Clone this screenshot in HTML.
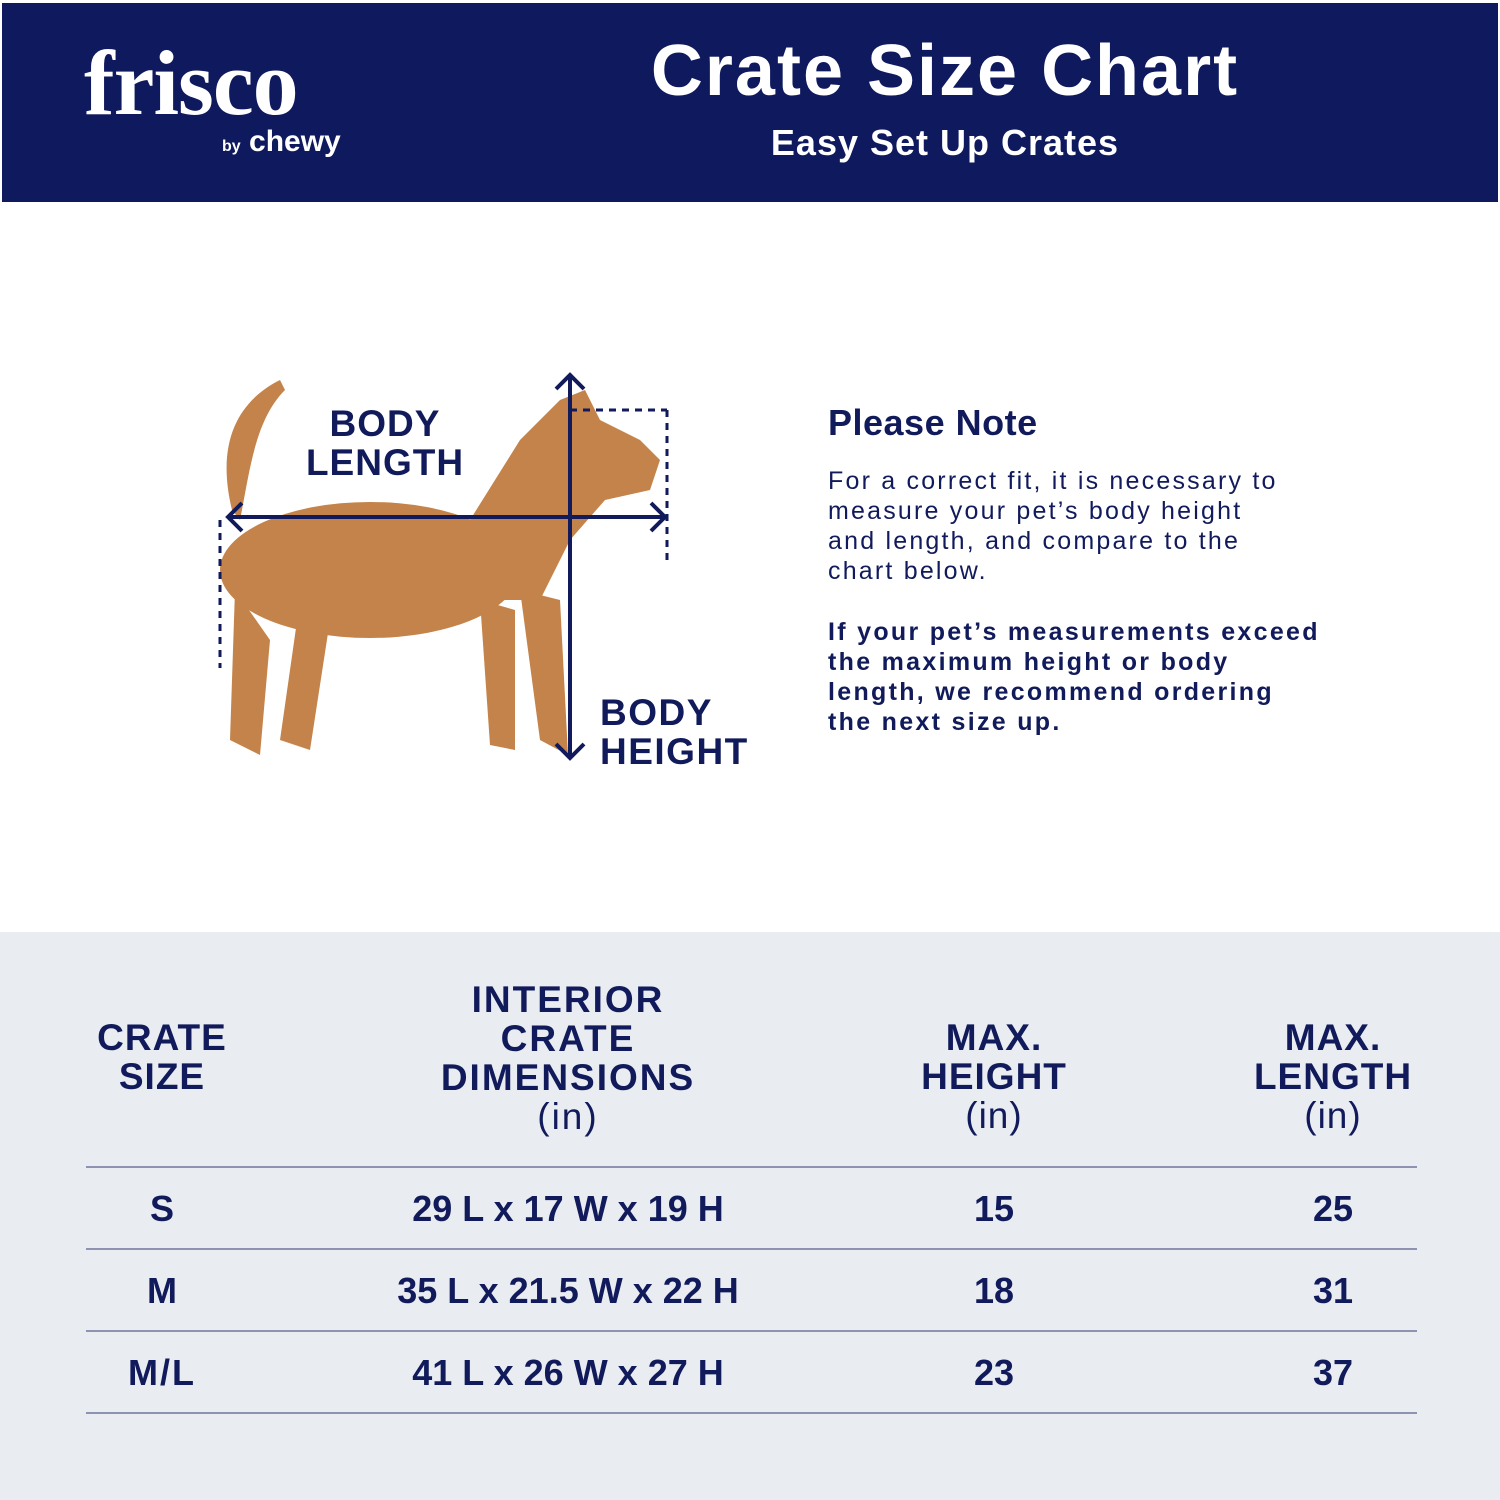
<!DOCTYPE html>
<html><head><meta charset="utf-8"><style>
body{margin:0;width:1500px;height:1500px;position:relative;background:#fff;font-family:"Liberation Sans",sans-serif;color:#111a5a;overflow:hidden}
.a{position:absolute}
.hdr{left:2px;top:3px;width:1496px;height:199px;background:#0e195e}
.c{text-align:center;font-weight:bold}
.gray{left:0;top:932px;width:1500px;height:568px;background:#e9ecf1}
.line{position:absolute;left:86px;width:1331px;height:2px;background:#8d93b0}
.th{font-size:37px;line-height:39px;letter-spacing:1px}
.td{font-size:36px;font-weight:bold}
</style></head><body>
<div class="a hdr"></div>
<div class="a" style="left:84px;top:30px;font-family:'Liberation Serif',serif;font-size:92px;font-weight:bold;color:#fff;letter-spacing:-1px">frisco</div>
<div class="a" style="left:222px;top:125px;font-size:30px;font-weight:bold;color:#fff"><span style="font-size:16px">by</span> chewy</div>
<div class="a c" style="left:590px;top:30px;width:710px;font-size:72px;color:#fff;letter-spacing:2px">Crate Size Chart</div>
<div class="a c" style="left:590px;top:122px;width:710px;font-size:36px;color:#fff;letter-spacing:1px">Easy Set Up Crates</div>

<svg class="a" style="left:180px;top:360px" width="600" height="420" viewBox="180 360 600 420">
<g fill="#c4834a">
<path d="M280 380 C240 400 215 440 232 510 L240 520 C250 470 255 420 285 390Z"/>
<ellipse cx="370" cy="570" rx="150" ry="68"/>
<path d="M470 520 L520 440 L560 400 L585 390 L600 420 L640 440 L660 460 L650 490 L605 500 L570 540 L540 600 L480 600Z"/>
<path d="M235 590 L230 740 L260 755 L270 640Z"/>
<path d="M300 600 L280 740 L310 750 L330 620Z"/>
<path d="M480 600 L490 745 L515 750 L515 610Z"/>
<path d="M520 590 L540 740 L568 755 L560 600Z"/>
</g>
<g stroke="#111a5a" stroke-width="4" fill="none">
<line x1="228" y1="517" x2="665" y2="517"/>
<polyline points="242,503 228,517 242,531"/><polyline points="651,503 665,517 651,531"/>
<line x1="570" y1="375" x2="570" y2="758"/>
<polyline points="556,389 570,375 584,389"/><polyline points="556,744 570,758 584,744"/>
<g stroke-dasharray="7,6" stroke-width="3"><line x1="220" y1="520" x2="220" y2="668"/><line x1="667" y1="410" x2="667" y2="565"/><line x1="570" y1="410" x2="667" y2="410"/></g>
</g>
</svg>
<div class="a c" style="left:290px;top:404px;width:190px;font-size:37px;line-height:39px;letter-spacing:1px">BODY<br>LENGTH</div>
<div class="a" style="left:600px;top:693px;font-size:37px;line-height:39px;font-weight:bold;letter-spacing:1.5px">BODY<br>HEIGHT</div>
<div class="a" style="left:828px;top:402px;font-size:36px;font-weight:bold;letter-spacing:0.5px">Please Note</div>
<div class="a" style="left:828px;top:466px;font-size:25px;line-height:30px;letter-spacing:2.2px">For a correct fit, it is necessary to<br>measure your pet’s body height<br>and length, and compare to the<br>chart below.</div>
<div class="a" style="left:828px;top:617px;font-size:25px;line-height:30px;font-weight:bold;letter-spacing:2.3px">If your pet’s measurements exceed<br>the maximum height or body<br>length, we recommend ordering<br>the next size up.</div>

<div class="a gray"></div>
<div class="a c th" style="left:62px;top:1018px;width:200px">CRATE<br>SIZE</div>
<div class="a c th" style="left:368px;top:980px;width:400px;letter-spacing:2px">INTERIOR<br>CRATE<br>DIMENSIONS<br><span style="font-weight:normal">(in)</span></div>
<div class="a c th" style="left:894px;top:1018px;width:200px">MAX.<br>HEIGHT<br><span style="font-weight:normal">(in)</span></div>
<div class="a c th" style="left:1233px;top:1018px;width:200px">MAX.<br>LENGTH<br><span style="font-weight:normal">(in)</span></div>
<div class="line" style="top:1166px"></div>
<div class="line" style="top:1248px"></div>
<div class="line" style="top:1330px"></div>
<div class="line" style="top:1412px"></div>
<div class="a c td" style="left:62px;top:1188px;width:200px">S</div>
<div class="a c td" style="left:368px;top:1188px;width:400px">29 L x 17 W x 19 H</div>
<div class="a c td" style="left:894px;top:1188px;width:200px">15</div>
<div class="a c td" style="left:1233px;top:1188px;width:200px">25</div>
<div class="a c td" style="left:62px;top:1270px;width:200px">M</div>
<div class="a c td" style="left:368px;top:1270px;width:400px">35 L x 21.5 W x 22 H</div>
<div class="a c td" style="left:894px;top:1270px;width:200px">18</div>
<div class="a c td" style="left:1233px;top:1270px;width:200px">31</div>
<div class="a c td" style="left:62px;top:1352px;width:200px;letter-spacing:2px">M/L</div>
<div class="a c td" style="left:368px;top:1352px;width:400px">41 L x 26 W x 27 H</div>
<div class="a c td" style="left:894px;top:1352px;width:200px">23</div>
<div class="a c td" style="left:1233px;top:1352px;width:200px">37</div>
</body></html>
